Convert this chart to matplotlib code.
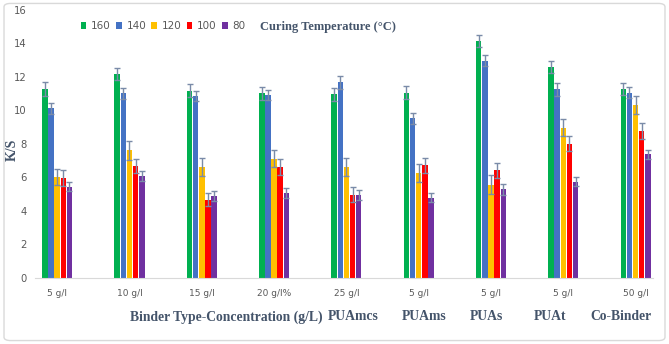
import matplotlib
matplotlib.use("Agg")
import matplotlib.pyplot as plt
from matplotlib.patches import FancyBboxPatch
import numpy as np

# data
group_labels = ["5 g/l", "10 g/l", "15 g/l", "20 g/l%", "25 g/l",
                "5 g/l", "5 g/l", "5 g/l", "50 g/l"]
temps = ["160", "140", "120", "100", "80"]

ks_160 = [11.25, 12.15, 11.15, 11.0, 10.95, 11.05, 14.15, 12.6, 11.25]
ks_140 = [10.1, 11.0, 10.85, 10.9, 11.65, 9.5, 12.95, 11.25, 11.05]
ks_120 = [6.0, 7.6, 6.6, 7.1, 6.6, 6.25, 5.55, 8.95, 10.3]
ks_100 = [5.95, 6.65, 4.65, 6.6, 4.95, 6.7, 6.4, 8.0, 8.75]
ks_80 = [5.42, 6.07, 4.88, 5.03, 4.92, 4.78, 5.28, 5.72, 7.36]

err_160 = [0.4, 0.35, 0.38, 0.38, 0.4, 0.38, 0.36, 0.36, 0.36]
err_140 = [0.33, 0.35, 0.3, 0.3, 0.36, 0.33, 0.34, 0.38, 0.34]
err_120 = [0.5, 0.58, 0.55, 0.5, 0.55, 0.52, 0.55, 0.5, 0.52]
err_100 = [0.5, 0.42, 0.4, 0.48, 0.45, 0.46, 0.46, 0.44, 0.46]
err_80 = [0.27, 0.3, 0.3, 0.3, 0.3, 0.26, 0.32, 0.28, 0.26]

binder_names = ["Binder Type-Concentration (g/L)", "PUAmcs", "PUAms",
                "PUAs", "PUAt", "Co-Binder"]

colors = ["#00B050", "#4472C4", "#FFC000", "#FF0000", "#7030A0"]
title_col = "#44546A"
tick_col = "#595959"
err_col = "#7A8BA8"

series = [ks_160, ks_140, ks_120, ks_100, ks_80]
errors = [err_160, err_140, err_120, err_100, err_80]

fig = plt.figure(figsize=(6.69, 3.44), dpi=100)
ax = fig.add_axes([0.052, 0.193, 0.924, 0.779])

x = np.arange(len(group_labels))
step = 0.085
width = 0.076
for i, (vals, errs) in enumerate(zip(series, errors)):
    pos = x + (i - 2) * step
    ax.bar(pos, vals, width=width, color=colors[i], label=temps[i],
           yerr=errs, ecolor=err_col,
           error_kw=dict(elinewidth=1.0, capsize=2.5, capthick=1.0))

ax.set_ylim(0, 16)
ax.set_xlim(-0.31, 8.24)
ax.set_yticks(np.arange(0, 17, 2))
ax.set_xticks(x)
ax.set_xticklabels(group_labels)
ax.tick_params(axis="y", length=0, labelsize=7.2, colors=tick_col, pad=6)
ax.tick_params(axis="x", length=0, labelsize=6.5, colors=tick_col, pad=8)
for s in ["top", "right", "left"]:
    ax.spines[s].set_visible(False)
ax.spines["bottom"].set_color("#D9D9D9")
ax.spines["bottom"].set_linewidth(0.8)

fig.text(12 / 669, 1 - 150 / 344, "K/S", family="Liberation Serif",
         fontweight="bold", fontsize=10, color=title_col, rotation=90,
         ha="center", va="center")

leg = ax.legend(loc="upper left", bbox_to_anchor=(0.074, 0.957), ncol=5,
                frameon=False, fontsize=7.5, handlelength=0.55,
                handleheight=0.7, handletextpad=0.45, columnspacing=0.5,
                borderaxespad=0, borderpad=0)
for t in leg.get_texts():
    t.set_color(tick_col)

fig.text(260 / 669, 1 - 27 / 344, "Curing Temperature (°C)",
         family="Liberation Serif", fontweight="bold", fontsize=9,
         color=title_col, ha="left", va="center")

name_x = [226, 353, 424, 486, 550, 621]
for nx, name in zip(name_x, binder_names):
    fig.text(nx / 669, 1 - 317 / 344, name, family="Liberation Serif",
             fontweight="bold", fontsize=9.8, color=title_col,
             ha="center", va="center")

border = FancyBboxPatch((0.006, 0.01), 0.988, 0.98,
                        boxstyle="round,pad=0,rounding_size=0.01",
                        transform=fig.transFigure, fill=False,
                        edgecolor="#D9D9D9", linewidth=1.0)
fig.patches.append(border)

fig.savefig("out.png", dpi=100)
